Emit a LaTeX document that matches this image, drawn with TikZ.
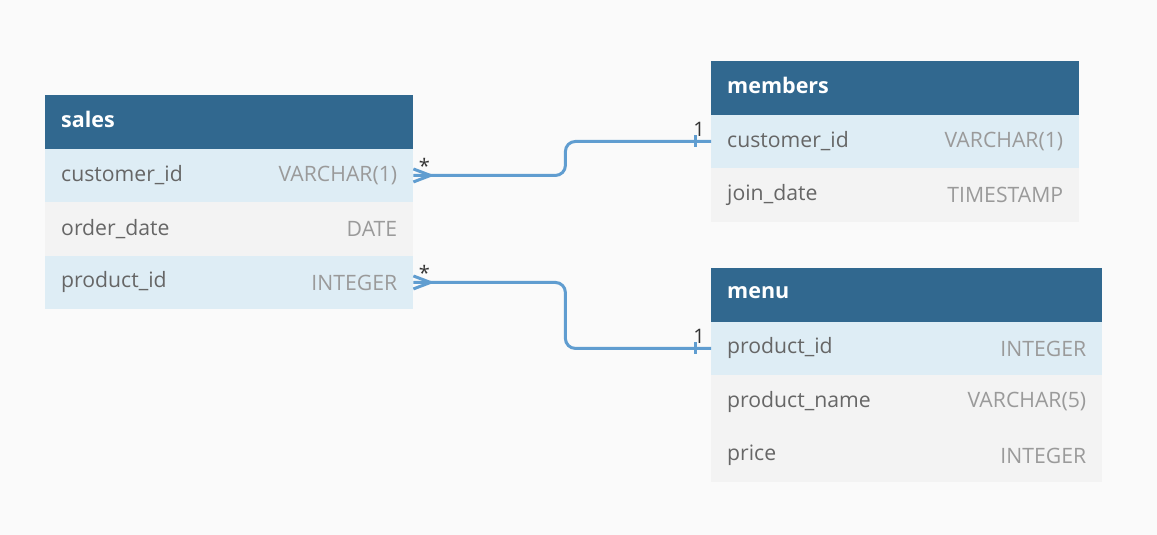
\documentclass[tikz,border=0pt]{standalone}
\usepackage{fontspec}
\setmainfont{Open Sans}
\definecolor{bgcol}{HTML}{FAFAFA}
\definecolor{hdrblue}{HTML}{31688F}
\definecolor{rowblue}{HTML}{DEEDF5}
\definecolor{rowgray}{HTML}{F3F3F3}
\definecolor{relblue}{HTML}{609DD0}
\definecolor{namegray}{HTML}{666666}
\definecolor{typegray}{HTML}{9A9A9A}
\tikzset{
  cell/.style={rectangle, draw=none, inner sep=0pt, anchor=north west, minimum height=53.5pt},
  hdr/.style={cell, fill=hdrblue},
  keyrow/.style={cell, fill=rowblue},
  plainrow/.style={cell, fill=rowgray},
  tname/.style={anchor=west, inner sep=0pt, text=white, font=\fontsize{21.5}{26}\selectfont\bfseries},
  fname/.style={anchor=west, inner sep=0pt, text=namegray, font=\fontsize{21.2}{26}\selectfont},
  ftype/.style={anchor=east, inner sep=0pt, text=typegray, font=\fontsize{21.2}{26}\selectfont},
  card/.style={inner sep=0pt, text=black!80, font=\fontsize{20}{24}\selectfont},
  rel/.style={draw=relblue, line width=3pt, rounded corners=10pt}
}
\begin{document}
\begin{tikzpicture}[x=1pt,y=-1pt]
  \fill[bgcol] (0,0) rectangle (1157,535);
  % sales
  \node[hdr, minimum width=368pt] (sales) at (45,95) {};
  \node[keyrow, minimum width=368pt] (sales-cid) at (45,148.5) {};
  \node[plainrow, minimum width=368pt] (sales-date) at (45,202) {};
  \node[keyrow, minimum width=368pt] (sales-pid) at (45,255.5) {};
  \node[tname] (sales-t) at ([xshift=16pt,yshift=2.5pt]sales.west) {sales};
  \node[fname] (sales-cid-n) at ([xshift=16pt]sales-cid.west) {customer\_id};
  \node[ftype] (sales-cid-y) at ([xshift=-16pt]sales-cid.east) {VARCHAR(1)};
  \node[fname] (sales-date-n) at ([xshift=16pt]sales-date.west) {order\_date};
  \node[ftype] (sales-date-y) at ([xshift=-16pt]sales-date.east) {DATE};
  \node[fname] (sales-pid-n) at ([xshift=16pt]sales-pid.west) {product\_id};
  \node[ftype] (sales-pid-y) at ([xshift=-16pt]sales-pid.east) {INTEGER};
  % members
  \node[hdr, minimum width=368pt] (mem) at (711,61) {};
  \node[keyrow, minimum width=368pt] (mem-cid) at (711,114.5) {};
  \node[plainrow, minimum width=368pt] (mem-join) at (711,168) {};
  \node[tname] (mem-t) at ([xshift=16pt,yshift=2.5pt]mem.west) {members};
  \node[fname] (mem-cid-n) at ([xshift=16pt]mem-cid.west) {customer\_id};
  \node[ftype] (mem-cid-y) at ([xshift=-16pt]mem-cid.east) {VARCHAR(1)};
  \node[fname] (mem-join-n) at ([xshift=16pt]mem-join.west) {join\_date};
  \node[ftype] (mem-join-y) at ([xshift=-16pt]mem-join.east) {TIMESTAMP};
  % menu
  \node[hdr, minimum width=391pt] (menu) at (711,268) {};
  \node[keyrow, minimum width=391pt] (menu-pid) at (711,321.5) {};
  \node[plainrow, minimum width=391pt] (menu-name) at (711,375) {};
  \node[plainrow, minimum width=391pt] (menu-price) at (711,428.5) {};
  \node[tname] (menu-t) at ([xshift=16pt,yshift=2.5pt]menu.west) {menu};
  \node[fname] (menu-pid-n) at ([xshift=16pt]menu-pid.west) {product\_id};
  \node[ftype] (menu-pid-y) at ([xshift=-16pt]menu-pid.east) {INTEGER};
  \node[fname] (menu-name-n) at ([xshift=16pt]menu-name.west) {product\_name};
  \node[ftype] (menu-name-y) at ([xshift=-16pt]menu-name.east) {VARCHAR(5)};
  \node[fname] (menu-price-n) at ([xshift=16pt]menu-price.west) {price};
  \node[ftype] (menu-price-y) at ([xshift=-16pt]menu-price.east) {INTEGER};
  % relations
  \draw[rel] (sales-cid.east) -- ++(152,0) |- (mem-cid.west);
  \draw[rel] (sales-pid.east) -- ++(152,0) |- (menu-pid.west);
  \draw[rel, rounded corners=0pt] ([yshift=6.5pt]sales-cid.east) -- ++(17,6.5) -- ([yshift=-6.5pt]sales-cid.east);
  \draw[rel, rounded corners=0pt] ([yshift=6.5pt]sales-pid.east) -- ++(17,6.5) -- ([yshift=-6.5pt]sales-pid.east);
  \draw[rel, rounded corners=0pt] ([xshift=-16pt,yshift=6pt]mem-cid.west) -- ++(0,12);
  \draw[rel, rounded corners=0pt] ([xshift=-16pt,yshift=6pt]menu-pid.west) -- ++(0,12);
  \node[card] (many1) at ([xshift=11pt,yshift=10pt]sales-cid.east) {*};
  \node[card] (many2) at ([xshift=11pt,yshift=10pt]sales-pid.east) {*};
  \node[card] (one1) at ([xshift=-12pt,yshift=12pt]mem-cid.west) {1};
  \node[card] (one2) at ([xshift=-12pt,yshift=12pt]menu-pid.west) {1};
\end{tikzpicture}
\end{document}
